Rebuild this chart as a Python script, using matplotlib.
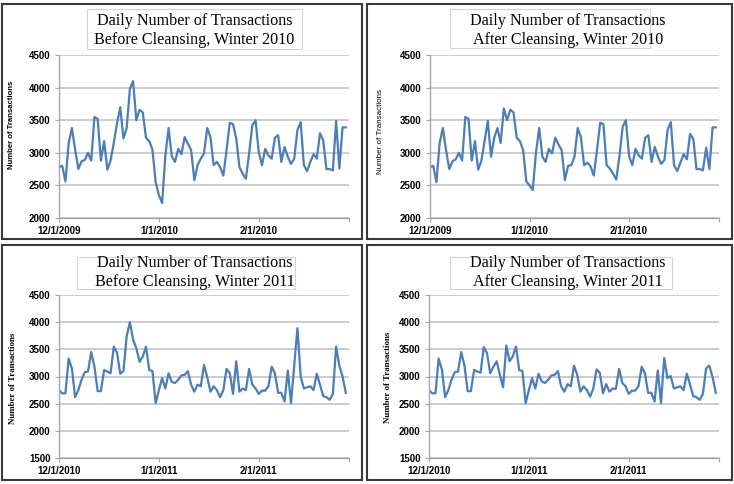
import matplotlib
matplotlib.use("Agg")
import matplotlib.pyplot as plt
from matplotlib.patches import Rectangle

W, H = 734, 484

# one point per day, 12/1 .. 2/28
days = list(range(90))
month_ticks = [0, 31, 62, 90]
labels_2010 = ["12/1/2009", "1/1/2010", "2/1/2010", ""]
labels_2011 = ["12/1/2010", "1/1/2011", "2/1/2011", ""]

before_2010 = [
    2780, 2800, 2560, 3150, 3380, 3050, 2750, 2870, 2890, 3000, 2880, 3550, 3520, 2880, 3180,
    2740, 2880, 3150, 3450, 3700, 3220, 3380, 3980, 4100, 3500, 3660, 3620, 3230, 3180, 3050,
    2550, 2350, 2230, 2950, 3380, 2950, 2860, 3060, 2980, 3240, 3140, 3040, 2580,
    2810, 2910, 2990, 3380, 3240, 2810, 2860, 2780, 2650, 3040, 3460, 3440, 3220, 2780, 2680,
    2600, 2990, 3420, 3500, 3010, 2810, 3060, 2960, 2910, 3230, 3270, 2860, 3090, 2940, 2830,
    2910, 3350, 3470, 2810, 2720, 2860, 2980, 2910, 3300, 3190, 2750, 2750, 2730, 3490, 2760,
    3390, 3390,
]
after_2010 = [
    2780, 2800, 2550, 3150, 3380, 3040, 2750, 2870, 2900, 3000, 2880, 3550, 3520, 2880, 3180,
    2740, 2880, 3180, 3490, 2940, 3230, 3380, 3150, 3680, 3500, 3660, 3620, 3230, 3180, 3040,
    2560, 2500, 2430, 3000, 3380, 2940, 2860, 3060, 2990, 3230, 3130, 3040, 2580, 2800,
    2810, 2940, 3380, 3240, 2810, 2850, 2790, 2650, 3040, 3460, 3440, 2810, 2760, 2680, 2590,
    2950, 3400, 3500, 2950, 2810, 3060, 2960, 2910, 3230, 3270, 2860, 3090, 2940, 2830, 2890,
    3350, 3470, 2810, 2720, 2850, 2980, 2900, 3290, 3210, 2750, 2750, 2730, 3080, 2750, 3390,
    3390,
]
before_2011 = [
    2750, 2690, 2690, 3330, 3150, 2620, 2750, 2940, 3080, 3090, 3450, 3180, 2730, 2730, 3120,
    3090, 3060, 3550, 3440, 3050, 3100, 3740, 4000, 3680, 3520, 3270, 3370, 3550, 3120, 3100,
    2510, 2750, 2970, 2780, 3060, 2900, 2880, 2940, 3020, 3030, 3100, 2850, 2720,
    2850, 2820, 3210, 2990, 2720, 2820, 2750, 2620, 2750, 3140, 3060, 2680, 3280, 2720, 2780,
    2750, 3140, 2850, 2780, 2680, 2740, 2740, 2820, 3180, 3060, 2700, 2700, 2540, 3110, 2510,
    3200, 3890, 3000, 2780, 2800, 2820, 2750, 3050, 2850, 2640, 2620, 2570, 2680, 3550, 3200,
    3000, 2700,
]
after_2011 = [
    2750, 2690, 2690, 3330, 3130, 2620, 2750, 2940, 3080, 3090, 3450, 3200, 2730, 2730, 3120,
    3090, 3070, 3540, 3430, 3060, 3180, 3280, 3030, 2800, 3570, 3280, 3370, 3550, 3120, 3100,
    2510, 2750, 2970, 2780, 3050, 2910, 2880, 2940, 3020, 3030, 3100, 2820, 2720, 2860,
    2820, 3200, 3030, 2720, 2820, 2750, 2630, 2780, 3130, 3070, 2690, 2860, 2720, 2780, 2770,
    3140, 2880, 2820, 2680, 2740, 2740, 2820, 3180, 3060, 2700, 2700, 2540, 3110, 2510, 3340,
    2970, 3010, 2780, 2800, 2820, 2750, 3050, 2850, 2640, 2620, 2570, 2680, 3150, 3200, 2990,
    2700,
]

titles = [
    ("Daily Number of Transactions", "Before Cleansing, Winter 2010"),
    ("Daily Number of Transactions", "After Cleansing, Winter 2010"),
    ("Daily Number of Transactions", "Before Cleansing, Winter 2011"),
    ("Daily Number of Transactions", "After Cleansing, Winter 2011"),
]
yticks_2010 = [2000, 2500, 3000, 3500, 4000, 4500]
yticks_2011 = [1500, 2000, 2500, 3000, 3500, 4000, 4500]

LINE = "#4a7ebb"
sans_bold = dict(family="Liberation Sans", weight="bold", size=5.6)
sans_reg = dict(family="Liberation Sans", size=5.8)
serif_bold = dict(family="Liberation Serif", weight="bold", size=6.4)


def frac(x0, y0, x1, y1):
    # pixel box, origin top-left -> figure fraction [l, b, w, h]
    return [x0 / W, 1 - y1 / H, (x1 - x0) / W, (y1 - y0) / H]


def box(fig, x0, y0, x1, y1, color, lw):
    l, b, w, h = frac(x0, y0, x1, y1)
    fig.add_artist(Rectangle((l, b), w, h, transform=fig.transFigure,
                             fill=False, ec=color, lw=lw))


def draw_panel(fig, values, ax_px, frame_px, tbox_px, title, tx, ty,
               xlabels, yticks, ylab_xy, ylab_font):
    box(fig, *frame_px, "#3a3a3a", 1.5)
    box(fig, *tbox_px, "#d4d4d4", 0.8)

    ax = fig.add_axes(frac(*ax_px))
    ax.plot(days, values, color=LINE, lw=1.6)
    ax.set_xlim(0, 90)
    ax.set_ylim(yticks[0], yticks[-1])
    ax.set_yticks(yticks)
    ax.set_xticks(month_ticks)
    ax.set_xticklabels(xlabels)
    ax.grid(axis="y", color="#bfbfbf", lw=1.1)
    ax.set_axisbelow(True)
    for s in ["top", "right"]:
        ax.spines[s].set_visible(False)
    for s in ["left", "bottom"]:
        ax.spines[s].set_color("#a6a6a6")
        ax.spines[s].set_linewidth(1.0)
    ax.tick_params(colors="#a6a6a6", labelcolor="black", length=3, width=0.8, pad=3)
    for lab in ax.get_xticklabels() + ax.get_yticklabels():
        lab.set_family("Liberation Sans")
        lab.set_fontweight("bold")
        lab.set_fontsize(7)

    fig.text(tx / W, 1 - ty[0] / H, title[0], ha="center", va="center",
             family="Liberation Serif", size=11.6)
    fig.text(tx / W, 1 - ty[1] / H, title[1], ha="center", va="center",
             family="Liberation Serif", size=11.6)
    fig.text(ylab_xy[0] / W, 1 - ylab_xy[1] / H, "Number of Transactions",
             rotation=90, ha="center", va="center", **ylab_font)


fig = plt.figure(figsize=(W / 100, H / 100), dpi=100)

draw_panel(fig, before_2010, (59, 55, 349, 218), (2, 4, 362, 239), (87, 9, 302, 49),
           titles[0], 194.5, (20.7, 40.5), labels_2010, yticks_2010, (12, 125), sans_bold)
draw_panel(fig, after_2010, (430, 55, 719, 218), (367, 4, 732, 239), (450, 9, 650, 48),
           titles[1], 568, (20.7, 40.5), labels_2010, yticks_2010, (380, 131), sans_reg)
draw_panel(fig, before_2011, (59, 295, 349, 458), (2, 245, 362, 480), (77, 257, 295, 289),
           titles[2], 194.5, (262.7, 282), labels_2011, yticks_2011, (13, 378), serif_bold)
draw_panel(fig, after_2011, (429, 295, 719, 458), (367, 245, 732, 480), (450, 257, 672, 289),
           titles[3], 568, (262.7, 282), labels_2011, yticks_2011, (388, 377), serif_bold)

fig.savefig("out.png", dpi=100)
